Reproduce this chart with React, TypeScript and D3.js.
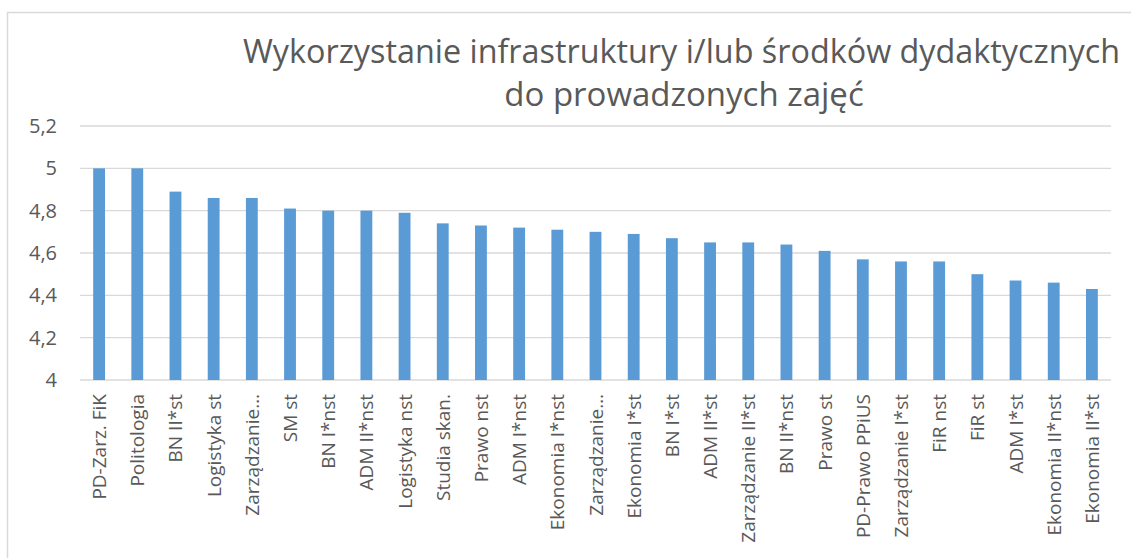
import React, { useEffect } from "react";
import * as d3 from "d3";

const categories = [
  "PD-Zarz. FiK",
  "Politologia",
  "BN II*st",
  "Logistyka st",
  "Zarządzanie…",
  "SM st",
  "BN I*nst",
  "ADM II*nst",
  "Logistyka nst",
  "Studia skan.",
  "Prawo nst",
  "ADM I*nst",
  "Ekonomia I*nst",
  "Zarządzanie…",
  "Ekonomia I*st",
  "BN I*st",
  "ADM II*st",
  "Zarządzanie II*st",
  "BN II*nst",
  "Prawo st",
  "PD-Prawo PPiUS",
  "Zarządzanie I*st",
  "FiR nst",
  "FiR st",
  "ADM I*st",
  "Ekonomia II*nst",
  "Ekonomia II*st",
];

const values = [
  5, 5, 4.89, 4.86, 4.86, 4.81, 4.8, 4.8, 4.79, 4.74, 4.73, 4.72, 4.71, 4.7,
  4.69, 4.67, 4.65, 4.65, 4.64, 4.61, 4.57, 4.56, 4.56, 4.5, 4.47, 4.46, 4.43,
];

const yTicks = [4, 4.2, 4.4, 4.6, 4.8, 5, 5.2];

const titleLines = [
  "Wykorzystanie infrastruktury i/lub środków dydaktycznych",
  "do prowadzonych zajęć",
];

export default function App() {
  const svgRef = React.useRef<SVGSVGElement>(null);
  const width = 1131;
  const height = 558;

  useEffect(() => {
    const svg = d3.select(svgRef.current);
    svg.selectAll("*").remove();

    const left = 80;
    const right = 1111;
    const top = 126;
    const bottom = 380;
    const textColor = "#595959";
    const font = "'Open Sans', sans-serif";

    // chart frame
    svg
      .append("rect")
      .attr("x", 7.5)
      .attr("y", 12.5)
      .attr("width", 1140)
      .attr("height", 600)
      .attr("fill", "#fff")
      .attr("stroke", "#D9D9D9")
      .attr("stroke-width", 1.5);

    const x = d3
      .scaleBand<number>()
      .domain(d3.range(categories.length))
      .range([left, right])
      .paddingInner(0.69)
      .paddingOuter(0.345);

    const y = d3.scaleLinear().domain([4, 5.2]).range([bottom, top]);

    // gridlines
    svg
      .append("g")
      .selectAll("line")
      .data(yTicks)
      .enter()
      .append("line")
      .attr("x1", left)
      .attr("x2", right)
      .attr("y1", (d) => y(d))
      .attr("y2", (d) => y(d))
      .attr("stroke", "#D9D9D9")
      .attr("stroke-width", 1.3);

    // y labels
    svg
      .append("g")
      .selectAll("text")
      .data(yTicks)
      .enter()
      .append("text")
      .attr("x", 57)
      .attr("y", (d) => y(d))
      .attr("dy", "0.35em")
      .attr("text-anchor", "end")
      .attr("fill", textColor)
      .style("font-family", font)
      .style("font-size", "20px")
      .text((d) => d3.format("")(d).replace(".", ","));

    // bars
    svg
      .append("g")
      .selectAll("rect")
      .data(values)
      .enter()
      .append("rect")
      .attr("x", (d, i) => x(i)!)
      .attr("y", (d) => y(d))
      .attr("width", x.bandwidth())
      .attr("height", (d) => bottom - y(d))
      .attr("fill", "#5B9BD5");

    // x labels
    svg
      .append("g")
      .selectAll("text")
      .data(categories)
      .enter()
      .append("text")
      .attr(
        "transform",
        (d, i) => `translate(${x(i)! + x.bandwidth() / 2 + 7}, 394) rotate(-90)`
      )
      .attr("text-anchor", "end")
      .attr("fill", textColor)
      .style("font-family", font)
      .style("font-size", "19px")
      .text((d) => d);

    // title
    svg
      .append("text")
      .attr("x", 243)
      .attr("y", 63)
      .attr("textLength", 877)
      .attr("lengthAdjust", "spacingAndGlyphs")
      .attr("fill", textColor)
      .style("font-family", font)
      .style("font-size", "32px")
      .text(titleLines[0]);

    svg
      .append("text")
      .attr("x", 684)
      .attr("y", 106)
      .attr("text-anchor", "middle")
      .attr("fill", textColor)
      .style("font-family", font)
      .style("font-size", "33px")
      .text(titleLines[1]);
  }, []);

  return (
    <div style={{ position: "absolute", left: 0, top: 0 }}>
      <svg ref={svgRef} width={width} height={height} style={{ display: "block" }} />
    </div>
  );
}
